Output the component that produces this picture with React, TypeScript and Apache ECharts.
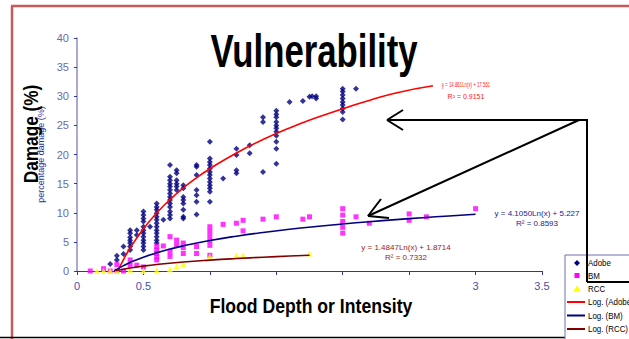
import React, { useEffect, useRef } from "react";
import * as echarts from "echarts";

// ---- data ----
const adobe: number[][] = [
  [0.25, 1.2], [0.3, 2.6], [0.3, 1.9], [0.35, 4.2], [0.35, 2.9],
  [0.4, 7.0], [0.4, 6.5], [0.4, 5.8], [0.4, 5.3], [0.4, 4.8], [0.4, 4.2], [0.4, 3.6],
  [0.45, 7.0], [0.45, 6.2],
  [0.5, 10.2], [0.5, 9.6], [0.5, 9.0], [0.5, 8.5], [0.5, 7.6], [0.5, 7.0], [0.5, 6.5], [0.5, 5.9], [0.5, 5.3], [0.5, 4.8], [0.5, 4.2], [0.5, 3.6],
  [0.55, 7.6],
  [0.6, 11.6], [0.6, 11.0], [0.6, 10.5], [0.6, 9.9], [0.6, 9.3], [0.6, 8.8], [0.6, 8.2], [0.6, 7.6], [0.6, 7.0], [0.6, 6.5], [0.6, 5.9], [0.6, 5.3], [0.6, 4.8],
  [0.65, 8.8],
  [0.7, 18.2], [0.7, 16.2], [0.7, 15.6], [0.7, 15.0], [0.7, 14.5], [0.7, 13.9], [0.7, 13.3], [0.7, 12.7], [0.7, 12.2], [0.7, 11.6], [0.7, 11.0], [0.7, 10.2], [0.7, 9.6], [0.7, 9.0],
  [0.75, 17.3], [0.75, 16.8], [0.75, 15.6], [0.75, 15.0], [0.75, 14.5], [0.75, 13.9],
  [0.8, 14.7], [0.8, 14.2], [0.8, 12.7], [0.8, 12.2], [0.8, 11.6], [0.8, 10.5], [0.8, 9.3], [0.8, 9.0],
  [0.9, 18.2], [0.9, 17.9], [0.9, 16.5], [0.9, 13.9], [0.9, 13.0], [0.9, 11.9], [0.9, 9.7],
  [1.0, 22.2], [1.0, 19.3], [1.0, 18.7], [1.0, 18.2], [1.0, 17.6], [1.0, 17.0], [1.0, 16.5], [1.0, 15.9], [1.0, 15.3], [1.0, 14.7], [1.0, 14.2], [1.0, 13.6], [1.0, 11.9],
  [1.1, 15.9],
  [1.2, 21.0], [1.2, 19.9], [1.2, 17.3], [1.2, 16.8],
  [1.3, 21.6], [1.3, 20.2],
  [1.4, 26.4], [1.4, 25.6], [1.4, 17.0],
  [1.5, 27.5], [1.5, 26.9], [1.5, 26.4], [1.5, 25.6], [1.5, 25.0], [1.5, 24.5], [1.5, 23.9], [1.5, 23.2], [1.5, 22.2], [1.5, 21.0], [1.5, 18.4],
  [1.6, 29.0], [1.7, 29.2], [1.75, 29.9], [1.77, 30.0], [1.8, 30.0], [1.8, 29.6],
  [2.0, 31.3], [2.0, 30.8], [2.0, 30.2], [2.0, 29.6], [2.0, 29.0], [2.0, 28.5], [2.0, 27.9], [2.0, 27.3], [2.0, 26.0],
  [2.1, 31.3],
];

const bm: number[][] = [
  [0.1, 0], [0.2, 0.4], [0.25, 0], [0.3, 1.1], [0.3, 0], [0.35, 0], [0.4, 1.9], [0.4, 1.0], [0.45, 1.0], [0.5, 0.7],
  [0.6, 4.2], [0.6, 3.6], [0.6, 3.0], [0.6, 2.4], [0.6, 1.9], [0.65, 4.3],
  [0.7, 5.9], [0.7, 3.3], [0.7, 2.5], [0.75, 5.3], [0.75, 4.5],
  [0.8, 4.8], [0.8, 4.0], [0.8, 3.0], [0.9, 4.2], [0.9, 3.0],
  [1.0, 7.6], [1.0, 6.8], [1.0, 6.0], [1.0, 5.2], [1.0, 4.4], [1.0, 2.7],
  [1.1, 8.0], [1.2, 8.2], [1.25, 8.7], [1.25, 6.9], [1.4, 8.9], [1.5, 9.3], [1.7, 8.9], [1.75, 9.3],
  [2.0, 10.7], [2.0, 9.6], [2.0, 8.5], [2.0, 7.5], [2.0, 6.5], [2.1, 9.3], [2.2, 8.2],
  [2.5, 9.8], [2.5, 8.7], [2.63, 9.3], [3.0, 10.7],
];

const rcc: number[][] = [
  [0.15, 0], [0.2, 0], [0.25, 0], [0.3, 0], [0.4, 0.2], [0.5, 0], [0.6, 0.1], [0.7, 0.3],
  [0.75, 0.8], [0.8, 1.2], [1.0, 2.5], [1.2, 2.7], [1.25, 2.7], [1.75, 3.0],
];

// trend curves
const logAdobeX = [0.31, 0.35, 0.4, 0.5, 0.6, 0.7, 0.8, 0.9, 1.0, 1.2, 1.4, 1.6, 1.8, 2.0, 2.2, 2.4, 2.68];
const logAdobeY = [0.16, 1.96, 3.94, 7.26, 9.97, 12.26, 14.25, 16.0, 17.56, 20.27, 22.56, 24.55, 26.3, 27.86, 29.28, 30.57, 31.8];
const logBMX = [0.28, 0.3, 0.35, 0.4, 0.5, 0.6, 0.7, 0.8, 1.0, 1.2, 1.4, 1.6, 1.8, 2.0, 2.2, 2.4, 2.6, 2.8, 3.0];
const logBMY = [0.0, 0.28, 0.92, 1.47, 2.38, 3.13, 3.76, 4.31, 5.23, 5.98, 6.61, 7.16, 7.64, 8.07, 8.46, 8.82, 9.15, 9.45, 9.74];
const logRCCX = [0.29, 0.3, 0.4, 0.5, 0.6, 0.8, 1.0, 1.2, 1.4, 1.6, 1.75];
const logRCCY = [0.03, 0.08, 0.51, 0.84, 1.11, 1.54, 1.87, 2.14, 2.37, 2.57, 2.7];

const shownXTicks = ["0", "0.5", "3", "3.5"];

const eqAdobe = ["y = 14.861Ln(x) + 17.561", "R\u00b2 = 0.9151"];
const eqBM = ["y = 4.1050Ln(x) + 5.227", "R\u00b2 = 0.8593"];
const eqRCC = ["y = 1.4847Ln(x) + 1.8714", "R\u00b2 = 0.7332"];

const legendNames = ["Adobe", "BM", "RCC", "Log. (Adobe)", "Log. (BM)", "Log. (RCC)"];

const NAVY = "#000080";
const MAGENTA = "#ff00ff";
const YELLOW = "#ffff00";
const RED = "#ff0000";
const DARKRED = "#800000";

const zip = (xs: number[], ys: number[]) => xs.map((x, i) => [x, ys[i]]);

export default function App() {
  const ref = useRef<HTMLDivElement>(null);
  useEffect(() => {
    if (!ref.current) return;
    const chart = echarts.init(ref.current, undefined, { renderer: "svg" });
    const txt = (s: string, x: number, y: number, font: string, fill: string, extra: any = {}) => ({
      type: "text",
      x,
      y,
      z: 10,
      ...extra,
      style: { text: s, font, fill, align: "center", verticalAlign: "middle", textAlign: "center", textVerticalAlign: "middle" },
    });
    const line = (x1: number, y1: number, x2: number, y2: number, stroke: string, lw: number, z = 20) => ({
      type: "line",
      z,
      shape: { x1, y1, x2, y2 },
      style: { stroke, lineWidth: lw },
    });
    const legX = 588;
    const rows = [263, 275.5, 288.5, 302, 315.5, 329];
    const legendGraphics: any[] = [
      { type: "rect", z: 15, shape: { x: 565, y: 255, width: 80, height: 90 }, style: { fill: "#fff", stroke: "#6f6fb0", lineWidth: 1 } },
      { type: "polygon", z: 16, shape: { points: [[577, rows[0] - 3], [580, rows[0]], [577, rows[0] + 3], [574, rows[0]]] }, style: { fill: NAVY } },
      { type: "rect", z: 16, shape: { x: 574.5, y: rows[1] - 2.5, width: 5, height: 5 }, style: { fill: MAGENTA } },
      { type: "polygon", z: 16, shape: { points: [[577, rows[2] - 3], [580.5, rows[2] + 2.5], [573.5, rows[2] + 2.5]] }, style: { fill: YELLOW } },
      line(567, rows[3], 585, rows[3], RED, 2, 16),
      line(567, rows[4], 585, rows[4], NAVY, 2, 16),
      line(567, rows[5], 585, rows[5], DARKRED, 2, 16),
      ...legendNames.map((n, i) => ({
        type: "text",
        z: 16,
        x: legX,
        y: rows[i],
        scaleX: 0.88,
        style: { text: n, font: '9px "Liberation Sans"', fill: "#000", align: "left", verticalAlign: "middle", textAlign: "left", textVerticalAlign: "middle" },
      })),
    ];
    const option: any = {
      animation: false,
      backgroundColor: "#fff",
      textStyle: { fontFamily: "Liberation Sans" },
      grid: { left: 77, right: 87, top: 38, bottom: 68 },
      xAxis: {
        type: "value",
        min: 0,
        max: 3.5,
        interval: 0.5,
        splitLine: { show: false },
        axisLine: { lineStyle: { color: "#333399", width: 1 } },
        axisTick: { show: true, length: 4, lineStyle: { color: "#333399" } },
        axisLabel: {
          color: "#4d4da6",
          fontSize: 11,
          margin: 9,
          formatter: (v: number) => (shownXTicks.includes(String(v)) ? String(v) : ""),
        },
      },
      yAxis: {
        type: "value",
        min: 0,
        max: 40,
        interval: 5,
        splitLine: { show: false },
        axisLine: { show: true, lineStyle: { color: "#8c8cc8", width: 1.5 } },
        axisTick: { show: true, length: 3, lineStyle: { color: "#333399" } },
        axisLabel: { color: "#6a6ab0", fontSize: 11, margin: 8 },
        name: "percentage damage (%)",
        nameLocation: "middle",
        nameGap: 29,
        nameTextStyle: { fontSize: 9, color: "#2b2b99" },
      },
      series: [
        { name: "Adobe", type: "scatter", data: adobe, symbol: "diamond", symbolSize: 6, itemStyle: { color: NAVY }, z: 3 },
        { name: "BM", type: "scatter", data: bm, symbol: "rect", symbolSize: 5, itemStyle: { color: MAGENTA }, z: 3 },
        { name: "RCC", type: "scatter", data: rcc, symbol: "triangle", symbolSize: 6, itemStyle: { color: YELLOW }, z: 3 },
        { name: "Log. (Adobe)", type: "line", data: zip(logAdobeX, logAdobeY), smooth: true, showSymbol: false, lineStyle: { color: RED, width: 1.6 }, z: 4 },
        { name: "Log. (BM)", type: "line", data: zip(logBMX, logBMY), smooth: true, showSymbol: false, lineStyle: { color: NAVY, width: 1.6 }, z: 4 },
        { name: "Log. (RCC)", type: "line", data: zip(logRCCX, logRCCY), smooth: true, showSymbol: false, lineStyle: { color: DARKRED, width: 1.6 }, z: 4 },
      ],
      graphic: [
        // frame
        line(11, 6, 640, 6, "#c75b58", 2.5, 1),
        line(12, 6, 12, 345, "#c75b58", 2.5, 1),
        line(0, 337.5, 640, 337.5, "#000", 1.5, 1),
        // title and axis titles
        txt("Vulnerability", 314, 51, 'bold 46px "Liberation Sans"', "#000", { scaleX: 0.755 }),
        txt("Flood Depth or Intensity", 311, 305, 'bold 21px "Liberation Sans"', "#000", { scaleX: 0.84 }),
        txt("Damage (%)", 31, 134, 'bold 21px "Liberation Sans"', "#000", { rotation: Math.PI / 2, scaleX: 0.82 }),
        // trend equations
        txt(eqAdobe[0], 466, 85, '7px "Liberation Sans"', "#ff2020", { scaleX: 0.62 }),
        txt(eqAdobe[1], 466, 96, '7px "Liberation Sans"', "#ff2020"),
        txt(eqBM[0], 537, 213, '8px "Liberation Sans"', "#1a1a90"),
        txt(eqBM[1], 537, 223.5, '8px "Liberation Sans"', "#1a1a90"),
        txt(eqRCC[0], 406, 247, '8px "Liberation Sans"', "#a02020"),
        txt(eqRCC[1], 406, 257.5, '8px "Liberation Sans"', "#a02020"),
        // legend
        ...legendGraphics,
        // arrows and box lines
        line(387, 120, 587, 120, "#000", 2),
        line(387, 120, 403, 110, "#000", 2),
        line(387, 120, 403, 130, "#000", 2),
        line(579, 120, 368, 216, "#000", 2),
        line(368, 216, 381, 199, "#000", 2),
        line(368, 216, 389, 218, "#000", 2),
        line(587, 119, 587, 282, "#000", 2),
        line(587, 282, 640, 282, "#000", 2),
      ],
    };
    chart.setOption(option);
    return () => chart.dispose();
  }, []);
  return <div ref={ref} style={{ position: "fixed", left: 0, top: 0, width: 629, height: 339 }} />;
}
